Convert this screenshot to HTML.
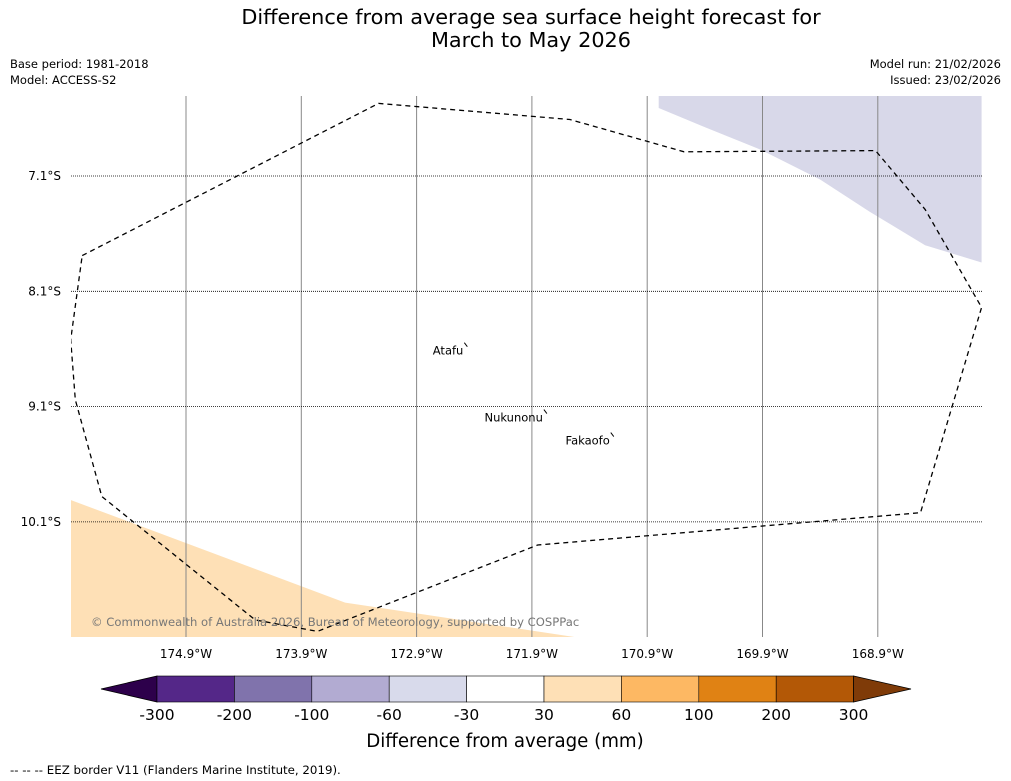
<!DOCTYPE html>
<html><head><meta charset="utf-8"><style>
body{margin:0;background:#fff;}
svg{display:block;font-family:"DejaVu Sans","Liberation Sans",sans-serif;}
</style></head><body>
<svg id="chart" width="1011" height="781" viewBox="0 0 1011 781">
<text x="531" y="24" font-size="20.8" text-anchor="middle">Difference from average sea surface height forecast for</text>
<text x="531" y="47" font-size="20.8" text-anchor="middle">March to May 2026</text>
<text x="10" y="68" font-size="11.5">Base period: 1981-2018</text>
<text x="10" y="84" font-size="11.5">Model: ACCESS-S2</text>
<text x="1001" y="68" font-size="11.5" text-anchor="end">Model run: 21/02/2026</text>
<text x="1001" y="84" font-size="11.5" text-anchor="end">Issued: 23/02/2026</text>
<g id="map"></g>
<g id="cbar"></g>
<text x="505" y="747" font-size="18.2" text-anchor="middle">Difference from average (mm)</text>
<text x="10" y="774" font-size="11.8">--  --  -- EEZ border V11 (Flanders Marine Institute, 2019).</text>
</svg>
<script>
const lonTicks=[-174.9,-173.9,-172.9,-171.9,-170.9,-169.9,-168.9];
const latTicks=[-7.1,-8.1,-9.1,-10.1];
const eezLon=[-175.80,-173.23,-171.57,-170.58,-168.92,-168.49,-168.00,-168.53,-171.85,-173.76,-174.30,-175.63,-175.86,-175.90,-175.80];
const eezLat=[-7.79,-6.47,-6.61,-6.89,-6.88,-7.39,-8.24,-10.02,-10.30,-11.05,-10.95,-9.88,-9.04,-8.52,-7.79];
const lowLon=[-170.80,-168.00,-168.00,-168.49,-168.97,-169.40,-169.92,-170.44,-170.80];
const lowLat=[-6.40,-6.40,-7.85,-7.70,-7.41,-7.13,-6.87,-6.66,-6.51];
const highLon=[-175.90,-173.52,-171.52,-175.90];
const highLat=[-9.91,-10.80,-11.10,-11.10];
const islands=["Atafu","Nukunonu","Fakaofo"];
const islandLon=[-172.46,-171.77,-171.19];
const islandLat=[-8.58,-9.16,-9.36];
const cbLevels=["-300","-200","-100","-60","-30","30","60","100","200","300"];
const cbColors=["#542788","#8073ac","#b2abd2","#d8daeb","#ffffff","#fee0b6","#fdb863","#e08214","#b35806"];
const NS="http://www.w3.org/2000/svg";
const X0=71,X1=982,Y0=96,Y1=637;
function xOf(lon){return 186+(lon+174.9)*115.3;}
function yOf(lat){return 176+(-7.1-lat)*115.3;}
function mk(t,a,p){const e=document.createElementNS(NS,t);for(const k in a)e.setAttribute(k,a[k]);p.appendChild(e);return e;}
const map=document.getElementById('map');
const defs=mk('defs',{},map);
const cp=mk('clipPath',{id:'clip'},defs);
mk('rect',{x:X0,y:Y0,width:X1-X0,height:Y1-Y0},cp);
const g=mk('g',{'clip-path':'url(#clip)'},map);
function pts(lo,la){return lo.map((v,i)=>xOf(v).toFixed(1)+','+yOf(la[i]).toFixed(1)).join(' ');}
const low=mk('polygon',{points:pts(lowLon,lowLat),fill:'#d8d8e9'},g);


const high=mk('polygon',{points:pts(highLon,highLat),fill:'#fee0b6'},g);


lonTicks.forEach(l=>{
 const ln=mk('line',{x1:xOf(l),x2:xOf(l),y1:Y0,y2:Y1,stroke:'#888','stroke-width':1},g);
 
 
 const t=mk('text',{x:xOf(l),y:658,'font-size':12,'text-anchor':'middle'},map);
 t.textContent=Math.abs(l).toFixed(1)+'°W';
 
 
});
latTicks.forEach(l=>{
 const ln=mk('line',{x1:X0,x2:X1,y1:yOf(l),y2:yOf(l),stroke:'#000','stroke-width':0.8,'stroke-dasharray':'1,1'},g);
 
 
 const t=mk('text',{x:61,y:yOf(l)+4,'font-size':12,'text-anchor':'end'},map);
 t.textContent=Math.abs(l).toFixed(1)+'°S';
 
 
});
const eez=mk('polyline',{points:pts(eezLon,eezLat),fill:'none',stroke:'#000','stroke-width':1.3,'stroke-dasharray':'5,4'},g);


islands.forEach((n,i)=>{
 const x=xOf(islandLon[i]),y=yOf(islandLat[i]);
 const m=mk('line',{x1:x-3,y1:y-4,x2:x,y2:y,stroke:'#000','stroke-width':1},g);
 
 
 const t=mk('text',{x:x-4,y:y+8,'font-size':11.5,'text-anchor':'end'},g);
 t.textContent=n;
 
 
});
const cr=mk('text',{x:91,y:626,'font-size':11.6,fill:'#777'},g);
cr.textContent='© Commonwealth of Australia 2026, Bureau of Meteorology, supported by COSPPac';


const cb=document.getElementById('cbar');
const cbX0=157,cbW=77.4,cbY=676,cbH=26;
const lt=mk('polygon',{points:`${cbX0},${cbY} ${cbX0},${cbY+cbH} 101,${cbY+cbH/2}`,fill:'#2d004b',stroke:'#000','stroke-width':0.8},cb);


cbColors.forEach((c,i)=>{
 const r=mk('rect',{x:cbX0+i*cbW,y:cbY,width:cbW,height:cbH,fill:c,stroke:'#000','stroke-width':0.6},cb);
 
 
});
const xe=cbX0+cbColors.length*cbW;
const rt=mk('polygon',{points:`${xe},${cbY} ${xe},${cbY+cbH} 911,${cbY+cbH/2}`,fill:'#7f3b08',stroke:'#000','stroke-width':0.8},cb);


cbLevels.forEach((l,i)=>{
 const t=mk('text',{x:cbX0+i*cbW,y:720,'font-size':15.5,'text-anchor':'middle'},cb);
 t.textContent=l;
 
 
});
</script>
</body></html>
